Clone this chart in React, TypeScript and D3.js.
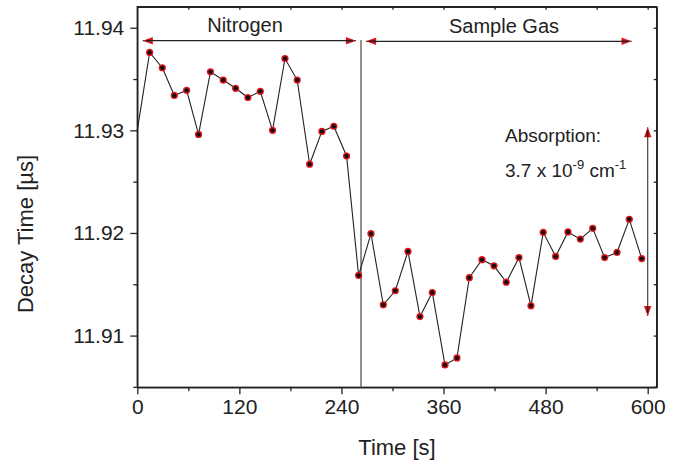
import React, { useEffect, useRef } from 'react'
import * as d3 from 'd3'

// measurement times (s) and ring-down decay times (µs)
const times = [0, 14.5, 29.4, 43.5, 58, 72, 86, 101, 115.6, 130, 144.6, 159, 173.6, 188, 202.6, 217, 231, 246,
  260.2, 274.7, 289.2, 303.3, 318.2, 332.3, 346.8, 361.7, 375.8, 390.3, 405.2, 419.3, 433.8, 448.7, 462.8,
  477.2, 491.8, 506.3, 520.8, 535.4, 549.4, 563.9, 578.4, 593]
const decay = [11.9300, 11.93759, 11.9361, 11.9334, 11.9339, 11.9296, 11.9357, 11.9349, 11.9341, 11.9332,
  11.9338, 11.9300, 11.9370, 11.9349, 11.9267, 11.9299, 11.9304, 11.9275,
  11.91586, 11.91993, 11.9130, 11.91437, 11.9182, 11.91185, 11.9142, 11.90714, 11.90782, 11.91564,
  11.9174, 11.9168, 11.9152, 11.9176, 11.9129, 11.92006, 11.91771, 11.9201, 11.9194, 11.92045,
  11.9176, 11.9181, 11.92133, 11.9175]

const xTicks = [0, 120, 240, 360, 480, 600]
const yTicks = [11.91, 11.92, 11.93, 11.94]
const switchTime = 263
const absorptionRange = [11.9119, 11.9303]

const W = 685
const H = 464
const FONT = '"Liberation Sans", Arial, Helvetica, sans-serif'
const INK = '#222'
const RED = '#e3141b'

export default function App() {
  const ref = useRef<SVGSVGElement>(null)

  useEffect(() => {
    const svg = d3.select(ref.current)
    svg.selectAll('*').remove()

    const left = 137.3, right = 656.7, top = 6.7, bottom = 387.3
    const x = d3.scaleLinear().domain([0, 610.6]).range([left, right])
    const y = d3.scaleLinear().domain([11.90496, 11.94205]).range([bottom, top])

    const g = svg.append('g')

    // axes
    const xAxis = g.append('g').attr('transform', `translate(0,${bottom})`)
      .call(d3.axisBottom(x).tickValues(xTicks).tickSize(7).tickSizeOuter(0).tickPadding(5))
    xAxis.append('g').call(d3.axisBottom(x).tickValues(d3.range(60, 601, 120)).tickSize(4).tickFormat(() => ''))
      .select('.domain').remove()
    const yAxis = g.append('g').attr('transform', `translate(${left},0)`)
      .call(d3.axisLeft(y).tickValues(yTicks).tickSize(7).tickSizeOuter(0).tickPadding(6).tickFormat(d3.format('.2f')))
    yAxis.append('g').call(d3.axisLeft(y).tickValues([11.905, 11.915, 11.925, 11.935]).tickSize(4).tickFormat(() => ''))
      .select('.domain').remove()

    // mirrored inward ticks on top and right
    g.append('g').attr('transform', `translate(0,${top})`)
      .call(d3.axisTop(x).tickValues(d3.range(60, 601, 60)).tickSize(-3).tickFormat(() => '').tickSizeOuter(0))
    g.append('g').attr('transform', `translate(${right},0)`)
      .call(d3.axisRight(y).tickValues([11.905, 11.91, 11.915, 11.92, 11.925, 11.93, 11.935, 11.94]).tickSize(-3).tickFormat(() => '').tickSizeOuter(0))

    g.selectAll('.domain').attr('stroke', INK).attr('stroke-width', 1.4)
    g.selectAll('.tick line').attr('stroke', INK).attr('stroke-width', 1.3)
    g.selectAll('.tick text').attr('fill', INK).attr('font-size', 21).attr('font-family', FONT)

    g.append('rect').attr('x', left).attr('y', top).attr('width', right - left).attr('height', bottom - top)
      .attr('fill', 'none').attr('stroke', INK).attr('stroke-width', 1.4)

    // gas switch marker
    g.append('line').attr('x1', x(switchTime)).attr('x2', x(switchTime)).attr('y1', 40).attr('y2', bottom)
      .attr('stroke', '#555').attr('stroke-width', 1.3)

    // data line and points
    const pts = times.map((t, i) => [t, decay[i]] as [number, number])
    g.append('path').datum(pts)
      .attr('d', d3.line<[number, number]>().x(d => x(d[0])).y(d => y(d[1])))
      .attr('fill', 'none').attr('stroke', INK).attr('stroke-width', 1.1)
    const dots = g.append('g').selectAll('g').data(pts.slice(1)).enter().append('g')
    dots.append('circle').attr('cx', d => x(d[0])).attr('cy', d => y(d[1])).attr('r', 3.6).attr('fill', RED)
    dots.append('circle').attr('cx', d => x(d[0])).attr('cy', d => y(d[1])).attr('r', 2.2).attr('fill', '#111')

    // arrows
    const head = (px: number, py: number, dx: number, dy: number) => {
      const L = 10, Wd = 3.8
      const bx = px - dx * L, by = py - dy * L
      g.append('path')
        .attr('d', `M${px},${py}L${bx - dy * Wd},${by + dx * Wd}L${bx + dy * Wd},${by - dx * Wd}Z`)
        .attr('fill', RED)
      g.append('line').attr('x1', bx).attr('y1', by).attr('x2', px - dx * 3).attr('y2', py - dy * 3)
        .attr('stroke', INK).attr('stroke-width', 1.6)
    }
    const hArrow = (x1: number, x2: number, yy: number) => {
      g.append('line').attr('x1', x1).attr('x2', x2).attr('y1', yy).attr('y2', yy)
        .attr('stroke', INK).attr('stroke-width', 1.2)
      head(x1, yy, -1, 0)
      head(x2, yy, 1, 0)
    }
    hArrow(x(6.5), x(257), 40.7)
    hArrow(x(269), x(581), 41.3)

    const ax = x(600)
    g.append('line').attr('x1', ax).attr('x2', ax).attr('y1', y(absorptionRange[1])).attr('y2', y(absorptionRange[0]))
      .attr('stroke', '#444').attr('stroke-width', 1.2)
    head(ax, y(absorptionRange[1]), 0, -1)
    head(ax, y(absorptionRange[0]), 0, 1)

    // labels
    const text = (tx: number, ty: number, s: string, size: number, anchor = 'start') =>
      g.append('text').attr('x', tx).attr('y', ty).attr('font-size', size).attr('font-family', FONT)
        .attr('fill', INK).attr('text-anchor', anchor).text(s)

    text(245, 32, 'Nitrogen', 20, 'middle')
    text(504, 33, 'Sample Gas', 20, 'middle')
    text(505, 142, 'Absorption:', 19)
    const t2 = text(505, 177, '3.7 x 10', 19)
    t2.append('tspan').attr('dy', -8).attr('font-size', 13).text('-9')
    t2.append('tspan').attr('dy', 8).text(' cm')
    t2.append('tspan').attr('dy', -8).attr('font-size', 13).text('-1')

    text((left + right) / 2, 455, 'Time [s]', 22, 'middle')
    text(0, 0, 'Decay Time [\u00b5s]', 22, 'middle')
      .attr('transform', `translate(33,${(top + bottom) / 2 + 37}) rotate(-90)`)
  }, [])

  return (
    <svg ref={ref} width={W} height={H} style={{ position: 'absolute', left: 0, top: 0, background: '#fff' }} />
  )
}
